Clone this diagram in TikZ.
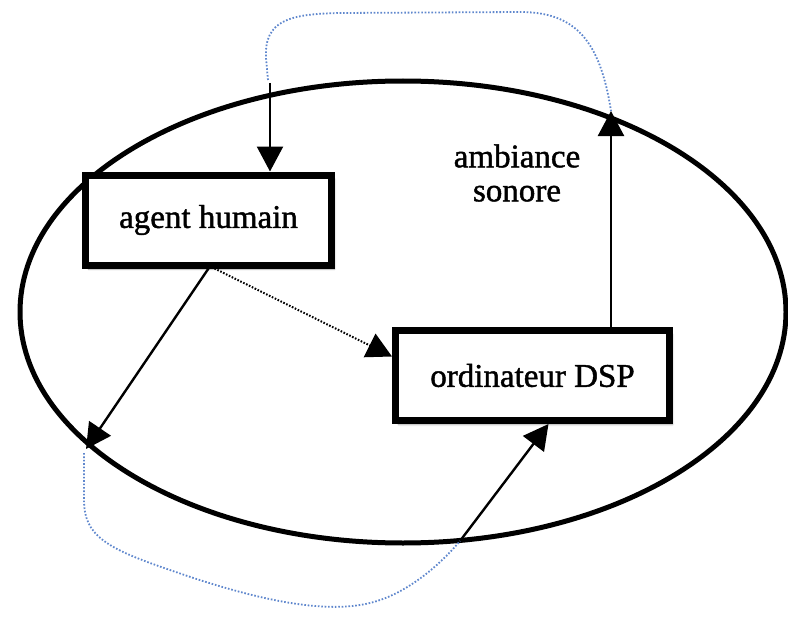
\documentclass[tikz,border=0pt]{standalone}
\usepackage{fontspec}
\setmainfont{Liberation Serif}
\newfontfamily\heavyserif{Liberation Serif}[FakeBold=1.3]
\usetikzlibrary{arrows.meta,shadows.blur}
\definecolor{dotblue}{RGB}{95,135,205}
\begin{document}
\begin{tikzpicture}[x=1pt,y=-1pt,
  box/.style={draw=black,line width=7pt,fill=white,inner sep=0pt,
    minimum width=#1,minimum height=90pt,font=\heavyserif\fontsize{33}{33}\selectfont,
    blur shadow={shadow xshift=3pt,shadow yshift=-4pt,shadow blur steps=6,shadow opacity=35}},
  arr/.style={line width=2.4pt,-{Triangle[width=26pt,length=25pt]}},
  dotarr/.style={line width=2pt,dash pattern=on 1.6pt off 1.6pt,-{Triangle[width=26pt,length=25pt]}},
  blueline/.style={line width=1.8pt,dotblue,dash pattern=on 1.6pt off 1.8pt},
  lbl/.style={align=center,font=\heavyserif\fontsize{33}{34}\selectfont,inner sep=0pt}]
\useasboundingbox (0,0) rectangle (788,618);
\draw[line width=5pt] (403,312) ellipse [x radius=383, y radius=231];
\node[box=246pt] (agent) at (208.5,220) {agent humain};
\node[box=274pt] (dsp) at (532.5,375.5) {ordinateur DSP};
\node[lbl] (amb) at (517,173) {ambiance\\sonore};
\coordinate (topin) at (270,83);
\coordinate (ambtop) at (611,111);
\coordinate (bl) at (86,449);
\coordinate (bot) at (460,541);
\coordinate (bluetopstart) at (268,80);
\coordinate (bluebotstart) at (84,453);
\draw[arr] (topin) -- (topin |- agent.north);
\draw[arr] (ambtop |- dsp.north) -- (ambtop);
\draw[arr] (agent.south) -- (bl);
\draw[dotarr] ([xshift=6pt]agent.south) -- ([yshift=19pt]dsp.west);
\draw[arr] (bot) -- ([xshift=16pt]dsp.south);
\draw[blueline] (bluetopstart) -- (266,58) .. controls (264,20) and (290,14) .. (340,13)
  -- (520,12) .. controls (575,12) and (600,40) .. (ambtop);
\draw[blueline] (bluebotstart) -- (84,500) .. controls (84,535) and (105,548) .. (170,570)
  .. controls (250,598) and (330,618) .. (380,600) .. controls (410,590) and (440,565) .. (bot);
\end{tikzpicture}
\end{document}
